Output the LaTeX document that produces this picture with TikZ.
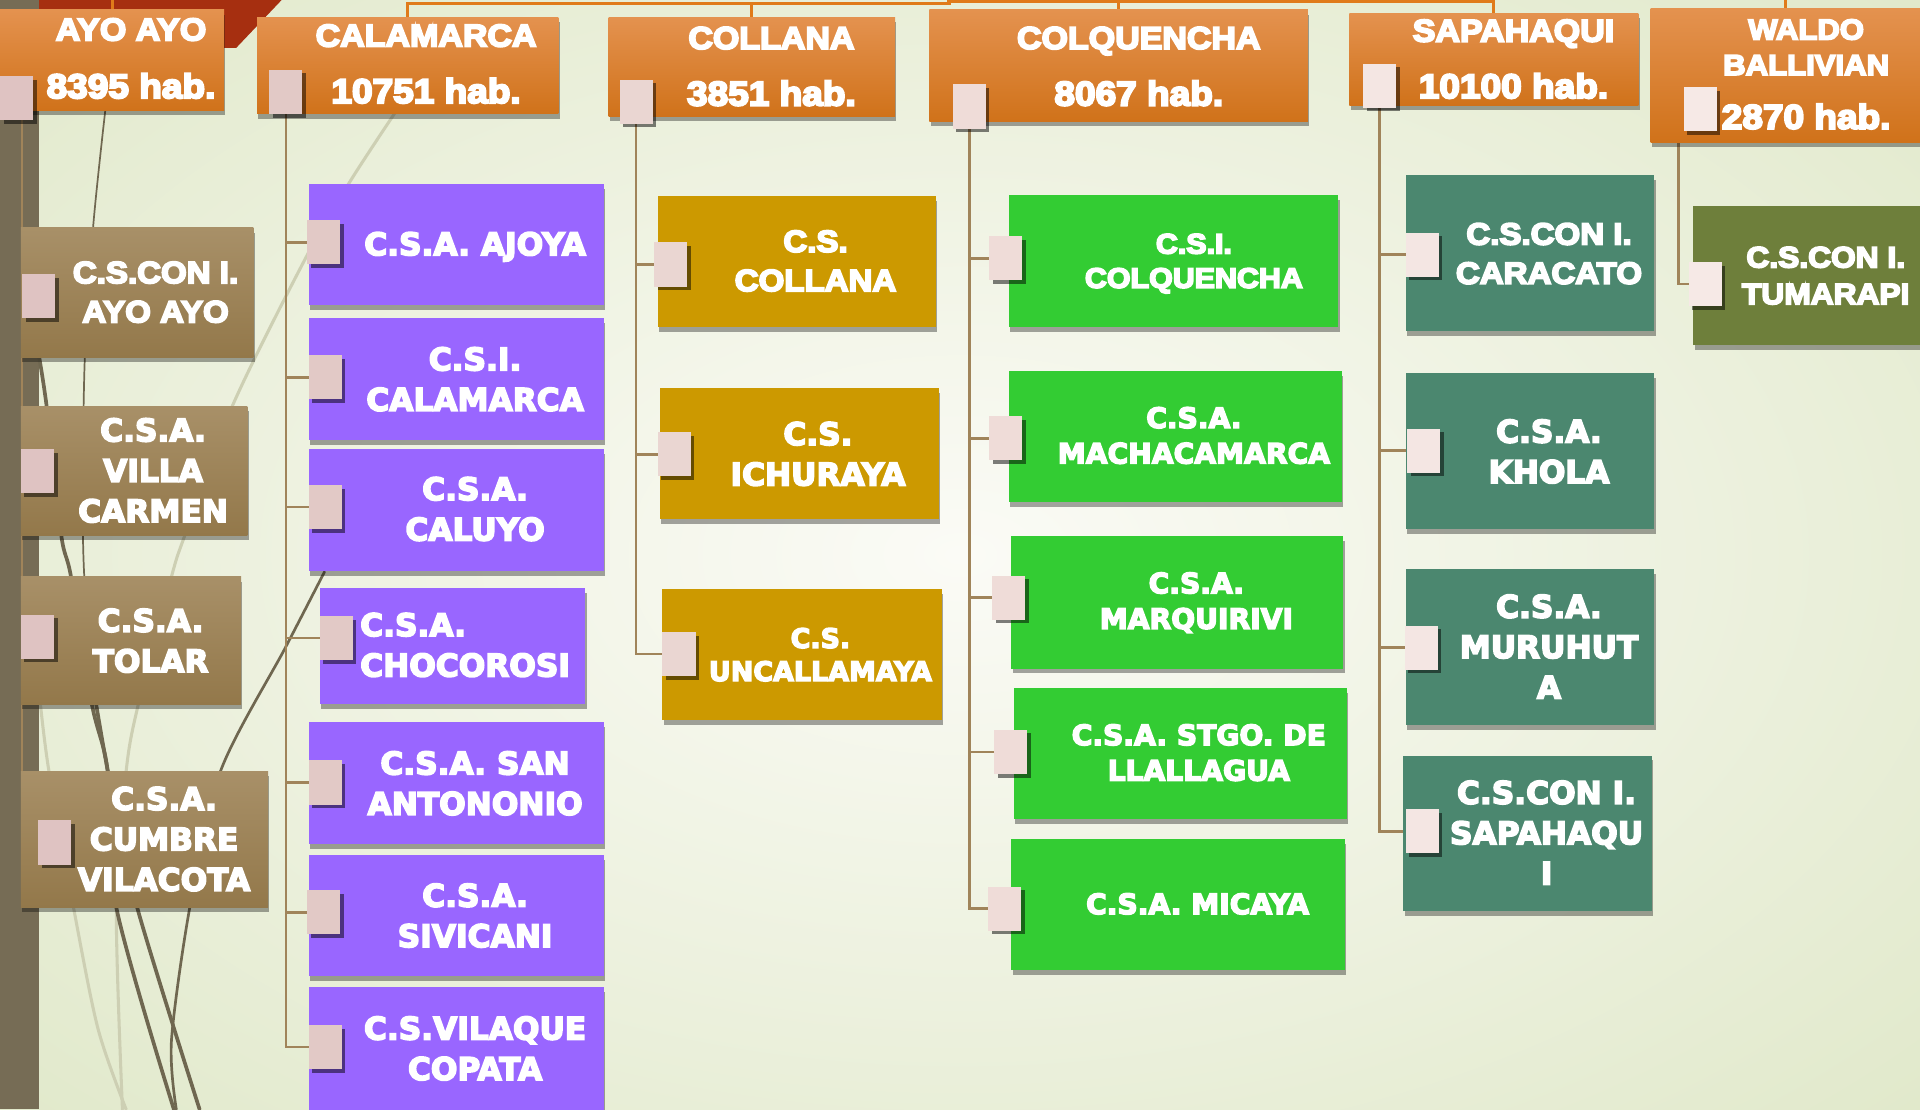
\documentclass[tikz,border=0pt]{standalone}
\usepackage{fontspec}
\newfontfamily\narfont[FakeStretch=1.08, FakeBold=6]{Liberation Sans Bold}
\newfontfamily\widfont[FakeBold=5]{DejaVu Sans Bold}
\usetikzlibrary{shadows,calc}
\definecolor{bgIn}{HTML}{FBFBF6}
\definecolor{bgOut}{HTML}{E1E9CB}
\definecolor{hTop}{HTML}{E4924F}
\definecolor{hBot}{HTML}{D0721A}
\definecolor{bTop}{HTML}{A89068}
\definecolor{bBot}{HTML}{93784A}
\definecolor{purp}{HTML}{9966FF}
\definecolor{gold}{HTML}{CC9900}
\definecolor{grn}{HTML}{33CC33}
\definecolor{teal}{HTML}{4B876F}
\definecolor{oliv}{HTML}{6E7F3B}
\definecolor{barc}{HTML}{766C55}
\definecolor{conc}{HTML}{A0845A}
\definecolor{topc}{HTML}{E07B1A}
\definecolor{redc}{HTML}{A62F10}
\definecolor{dkc}{HTML}{6F6750}
\definecolor{ltc}{HTML}{CDCFB3}
\definecolor{pkA}{HTML}{DFC3C2}
\definecolor{pkB}{HTML}{E2C9C6}
\definecolor{pkC}{HTML}{EAD6D2}
\definecolor{pkD}{HTML}{EFDCD8}
\definecolor{pkE}{HTML}{F4E6E3}
\definecolor{pkF}{HTML}{F6E9E6}
\pgfdeclarelayer{bg}
\pgfsetlayers{bg,main}
\newcommand{\mkbox}[6]{\node[#6, anchor=north west, minimum width={(#4)-(#2)}, minimum height={(#5)-(#3)}] (#1) at (#2,#3) {};}
\newcommand{\mksq}[4]{\node[sqr, fill=#4, anchor=north west] (#1) at (#2,#3) {};}
\begin{document}
\begin{tikzpicture}[x=1pt,y=-1pt,
  bx/.style={rectangle, inner sep=0pt, outer sep=0pt, draw=none,
    drop shadow={shadow xshift=1pt, shadow yshift=-4pt, opacity=.35, fill=black}},
  hd/.style={bx, top color=hTop, bottom color=hBot},
  brn/.style={bx, top color=bTop, bottom color=bBot},
  pu/.style={bx, fill=purp},
  go/.style={bx, fill=gold},
  gr/.style={bx, fill=grn},
  te/.style={bx, fill=teal},
  ol/.style={bx, fill=oliv},
  sqr/.style={rectangle, inner sep=0pt, outer sep=0pt, minimum width=27, minimum height=36,
    drop shadow={shadow xshift=3pt, shadow yshift=-3pt, opacity=.5, fill=black}},
  tx/.style={text=white, inner sep=0pt, align=center, text depth=0pt},
  hn/.style={tx, font={\narfont\fontsize{25.7}{30}\selectfont}},
  hp/.style={tx, font={\narfont\fontsize{28}{30}\selectfont}},
  hw/.style={tx, font={\narfont\fontsize{23.5}{29}\selectfont}},
  nt/.style={tx, font={\narfont\fontsize{25}{32}\selectfont}},
  ntS/.style={tx, font={\narfont\fontsize{23}{28}\selectfont}},
  ntW/.style={tx, font={\narfont\fontsize{24}{30}\selectfont}},
  wt/.style={tx, font={\widfont\fontsize{25.5}{33}\selectfont}},
  wtS/.style={tx, font={\widfont\fontsize{23}{29}\selectfont}},
  wtU/.style={tx, font={\widfont\fontsize{22}{27}\selectfont}},
  cn/.style={draw=conc, line width=2.2pt},
  tcn/.style={draw=topc, line width=2.5pt},
  dk/.style={draw=dkc, line cap=round},
  lt/.style={draw=ltc, line cap=round, line width=2.5pt}
]
\useasboundingbox (0,0) rectangle (1568,906);

% ---------- header boxes ----------
\mkbox{ayh}{0}{8}{183}{90}{hd}
\mkbox{calh}{210}{14}{456}{93}{hd}
\mkbox{colh}{497}{14}{731}{95}{hd}
\mkbox{cqh}{759}{8}{1068}{99}{hd}
\mkbox{saph}{1102}{11}{1338}{86}{hd}
\mkbox{walh}{1348}{7}{1568}{116}{hd}

\node[hn] (ayhn) at (107,24) {AYO AYO};
\node[hp] (ayhp) at (107,70) {8395 hab.};
\node[hn] (calhn) at (348,29) {CALAMARCA};
\node[hp] (calhp) at (348,74) {10751 hab.};
\node[hn] (colhn) at (630,31) {COLLANA};
\node[hp] (colhp) at (630,76) {3851 hab.};
\node[hn] (cqhn) at (930,31) {COLQUENCHA};
\node[hp] (cqhp) at (930,76) {8067 hab.};
\node[hn] (saphn) at (1236,25) {SAPAHAQUI};
\node[hp] (saphp) at (1236,70) {10100 hab.};
\node[hw] (walhn) at (1475,38.5) {WALDO\\BALLIVIAN};
\node[hp] (walhp) at (1475,95) {2870 hab.};

% ---------- child boxes ----------
\mkbox{a1}{17}{186}{207}{292}{brn}
\mkbox{a2}{17}{332}{202}{437}{brn}
\mkbox{a3}{17}{471}{197}{575}{brn}
\mkbox{a4}{17}{630}{219}{741}{brn}
\mkbox{c1}{252}{150}{493}{249}{pu}
\mkbox{c2}{252}{260}{493}{359}{pu}
\mkbox{c3}{252}{367}{493}{466}{pu}
\mkbox{c4}{261}{480}{478}{575}{pu}
\mkbox{c5}{252}{590}{493}{689}{pu}
\mkbox{c6}{252}{698}{493}{797}{pu}
\mkbox{c7}{252}{806}{493}{915}{pu}
\mkbox{g1}{537}{160}{764}{267}{go}
\mkbox{g2}{539}{317}{767}{424}{go}
\mkbox{g3}{541}{481}{769}{588}{go}
\mkbox{q1}{824}{159}{1093}{267}{gr}
\mkbox{q2}{824}{303}{1096}{410}{gr}
\mkbox{q3}{826}{438}{1097}{546}{gr}
\mkbox{q4}{828}{562}{1100}{669}{gr}
\mkbox{q5}{826}{685}{1098}{792}{gr}
\mkbox{s1}{1148}{143}{1351}{270}{te}
\mkbox{s2}{1148}{305}{1351}{432}{te}
\mkbox{s3}{1148}{465}{1351}{592}{te}
\mkbox{s4}{1146}{617}{1349}{744}{te}
\mkbox{w1}{1383}{168}{1575}{282}{ol}

\node[nt] (a1t) at (127,238.5) {C.S.CON I.\\AYO AYO};
\node[wt] (a2t) at (125,384) {C.S.A.\\VILLA\\CARMEN};
\node[wt] (a3t) at (123,523) {C.S.A.\\TOLAR};
\node[wt] (a4t) at (134,685) {C.S.A.\\CUMBRE\\VILACOTA};
\node[wt] (c1t) at (388,199) {C.S.A. AJOYA};
\node[wt] (c2t) at (388,309.5) {C.S.I.\\CALAMARCA};
\node[wt] (c3t) at (388,415.5) {C.S.A.\\CALUYO};
\node[wt, align=left, anchor=west] (c4t) at (294,526.5) {C.S.A.\\CHOCOROSI};
\node[wt] (c5t) at (388,639.5) {C.S.A. SAN\\ANTONONIO};
\node[wt] (c6t) at (388,747.5) {C.S.A.\\SIVICANI};
\node[wt] (c7t) at (388,856) {C.S.VILAQUE\\COPATA};
\node[nt] (g1t) at (666,213) {C.S.\\COLLANA};
\node[wt] (g2t) at (668,370.5) {C.S.\\ICHURAYA};
\node[wtU] (g3t) at (670,534.5) {C.S.\\UNCALLAMAYA};
\node[ntS] (q1t) at (975,213) {C.S.I.\\COLQUENCHA};
\node[wtS] (q2t) at (975,355.5) {C.S.A.\\MACHACAMARCA};
\node[wtS] (q3t) at (977,490.5) {C.S.A.\\MARQUIRIVI};
\node[wtS] (q4t) at (979,614.5) {C.S.A. STGO. DE\\LLALLAGUA};
\node[wtS] (q5t) at (978,738) {C.S.A. MICAYA};
\node[nt] (s1t) at (1265,207) {C.S.CON I.\\CARACATO};
\node[wt] (s2t) at (1265,368.5) {C.S.A.\\KHOLA};
\node[wt] (s3t) at (1265,528) {C.S.A.\\MURUHUT\\A};
\node[wt] (s4t) at (1263,680) {C.S.CON I.\\SAPAHAQU\\I};
\node[ntW] (w1t) at (1491,225) {C.S.CON I.\\TUMARAPI};

% ---------- pink squares ----------
\mksq{aysq}{0}{62}{pkA}
\mksq{calsq}{220}{57}{pkB}
\mksq{colsq}{506}{65}{pkC}
\mksq{cqsq}{778}{69}{pkD}
\mksq{sapsq}{1113}{52}{pkE}
\mksq{walsq}{1375}{71}{pkF}
\mksq{a1sq}{18}{224}{pkA}
\mksq{a2sq}{17}{367}{pkA}
\mksq{a3sq}{17}{502}{pkA}
\mksq{a4sq}{31}{670}{pkA}
\mksq{c1sq}{251}{180}{pkB}
\mksq{c2sq}{252}{290}{pkB}
\mksq{c3sq}{252}{396}{pkB}
\mksq{c4sq}{261}{503}{pkB}
\mksq{c5sq}{252}{621}{pkB}
\mksq{c6sq}{251}{727}{pkB}
\mksq{c7sq}{252}{837}{pkB}
\mksq{g1sq}{534}{198}{pkC}
\mksq{g2sq}{537}{353}{pkC}
\mksq{g3sq}{541}{516}{pkC}
\mksq{q1sq}{808}{193}{pkD}
\mksq{q2sq}{808}{340}{pkD}
\mksq{q3sq}{810}{470}{pkD}
\mksq{q4sq}{812}{596}{pkD}
\mksq{q5sq}{807}{724}{pkD}
\mksq{s1sq}{1148}{190}{pkE}
\mksq{s2sq}{1149}{350}{pkE}
\mksq{s3sq}{1147}{511}{pkE}
\mksq{s4sq}{1148}{661}{pkE}
\mksq{w1sq}{1379}{214}{pkF}

% ---------- background layer ----------
\begin{pgfonlayer}{bg}
\shade[shading=radial, inner color=bgIn, outer color=bgOut] (-300,-200) rectangle (1868,1106);
\fill[redc] (0,0) -- (230,0) -- (193,39) -- (0,39) -- cycle;
\fill[barc] (0,0) rectangle (32,906);
% decorative stems
\draw[lt] plot[smooth] coordinates {(324,90) (286,148) (250,210) (190,331) (151,437) (140,471) (113,575) (103,630) (95,741) (100,906)};
\draw[lt] plot[smooth] coordinates {(33,575) (40,630) (60,741) (80,840) (103,906)};
\draw[dk, line width=1.4pt] plot[smooth] coordinates {(86,90) (76,186) (69,300) (68,450) (76,560) (90,640)};
\draw[dk, line width=3pt] plot[smooth] coordinates {(76,560) (90,640) (112,741) (163,906)};
\draw[dk, line width=3pt] plot[smooth] coordinates {(30,280) (38,331) (50,437) (58,471) (75,575) (88,630) (95,741) (142,906)};
\draw[dk, line width=2.2pt] plot[smooth] coordinates {(265,467) (233,529) (180,630) (155,741) (140,850) (144,906)};
% top connectors
\coordinate (t0) at (0,0);
\coordinate (tb) at (775,3);
\coordinate (tc) at (775,1);
\draw[tcn] (calh.north) |- (tb) -- (tc) -| (saph.north);
\draw[tcn] (colh.north) -- (colh.north |- tb);
\draw[tcn] (cqh.north) -- (cqh.north |- tc);
\draw[tcn] (ayh.north) -- (ayh.north |- t0);
\draw[tcn] (walh.north) -- (walh.north |- t0);
% branch connectors
\foreach \c in {a1,a2,a3,a4} \draw[cn] ([xshift=4.5pt]aysq.south) |- (\c sq.west);
\foreach \c in {c1,c2,c3,c4,c5,c6,c7} \draw[cn] (calsq.south) |- (\c sq.west);
\foreach \c in {g1,g2,g3} \draw[cn] (colsq.south) |- (\c sq.west);
\foreach \c in {q1,q2,q3,q4,q5} \draw[cn] (cqsq.south) |- (\c sq.west);
\foreach \c in {s1,s2,s3,s4} \draw[cn] (sapsq.south) |- (\c sq.west);
\draw[cn] ([xshift=-4pt]walsq.south west) |- (w1sq.west);
\end{pgfonlayer}
\end{tikzpicture}
\end{document}
